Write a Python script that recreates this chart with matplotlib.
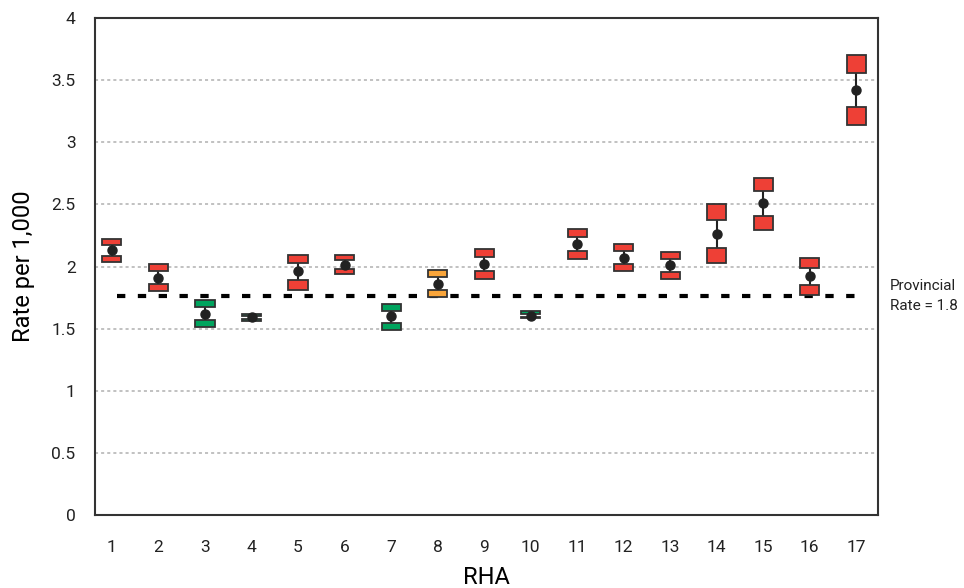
import matplotlib
matplotlib.use('Agg')
import matplotlib.pyplot as plt
from matplotlib.patches import Rectangle

# RHA rates per 1,000 with lower / upper confidence limits
rha = list(range(1, 18))
rate = [2.13, 1.91, 1.62, 1.59, 1.96, 2.01, 1.60, 1.86, 2.02, 1.60,
        2.18, 2.07, 2.01, 2.26, 2.51, 1.92, 3.42]
lower = [2.06, 1.83, 1.54, 1.57, 1.85, 1.96, 1.52, 1.78, 1.93, 1.59,
         2.09, 1.99, 1.93, 2.09, 2.35, 1.81, 3.21]
upper = [2.20, 1.99, 1.70, 1.61, 2.06, 2.07, 1.67, 1.94, 2.11, 1.63,
         2.27, 2.15, 2.09, 2.44, 2.66, 2.03, 3.63]
status = ['high', 'high', 'low', 'low', 'high', 'high', 'low', 'same', 'high', 'low',
          'high', 'high', 'high', 'high', 'high', 'high', 'high']
provincial = 1.763

colors = {'high': '#ee4036', 'low': '#00a45e', 'same': '#f9a53a'}
edge = '#333333'

plt.rcParams['font.family'] = ['Roboto', 'DejaVu Sans']

fig = plt.figure(figsize=(9.64, 5.88), dpi=100)
ax = fig.add_axes([0.0985, 0.1241, 0.8125, 0.8453])

ax.set_xlim(0.635, 17.47)
ax.set_ylim(0, 4)
ax.set_yticks([0, 0.5, 1, 1.5, 2, 2.5, 3, 3.5, 4])
ax.set_yticklabels(['0', '0.5', '1', '1.5', '2', '2.5', '3', '3.5', '4'])
ax.set_xticks(rha)
ax.tick_params(length=0, labelsize=12.5, colors='#222222')
ax.tick_params(axis='x', pad=18)
ax.tick_params(axis='y', pad=14)

for y in [0.5, 1, 1.5, 2, 2.5, 3, 3.5]:
    ax.axhline(y, color='#b0b0b0', lw=1.1, ls=(0, (2, 2)), zorder=0)

for s in ax.spines.values():
    s.set_color('#333333')
    s.set_linewidth(1.5)

# provincial rate
ax.hlines(provincial, 1.1, 17.05, colors='black', lw=3, linestyles=(0, (2, 3)), zorder=1)
ax.text(1.015, provincial, 'Provincial\nRate = 1.8', transform=ax.get_yaxis_transform(),
        ha='left', va='center', fontsize=11, linespacing=1.6, color='#222222')

w = 0.41
for x, r, lo, hi, st in zip(rha, rate, lower, upper, status):
    hu = 0.7 * (hi - r)
    hl = 0.7 * (r - lo)
    ax.plot([x, x], [lo + hl / 2, hi - hu / 2], color='#222222', lw=1.5, zorder=2)
    ax.add_patch(Rectangle((x - w / 2, hi - hu / 2), w, hu, facecolor=colors[st],
                           edgecolor=edge, lw=1.3, zorder=3))
    ax.add_patch(Rectangle((x - w / 2, lo - hl / 2), w, hl, facecolor=colors[st],
                           edgecolor=edge, lw=1.3, zorder=3))
    ax.plot(x, r, 'o', color='#222222', ms=6.5, zorder=4)

ax.set_xlabel('RHA', fontsize=17, labelpad=8)
ax.set_ylabel('Rate per 1,000', fontsize=17, labelpad=12)

fig.savefig('out.png', dpi=100)
